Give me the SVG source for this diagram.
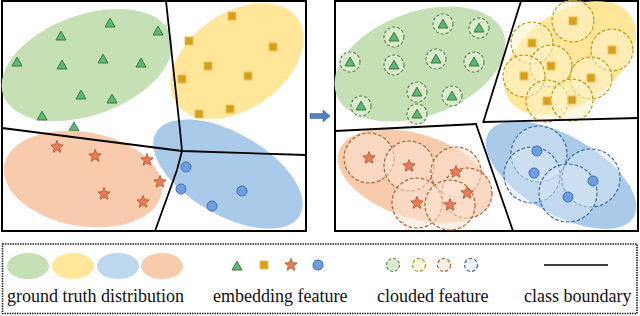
<svg xmlns="http://www.w3.org/2000/svg" xmlns:xlink="http://www.w3.org/1999/xlink" width="640" height="316" viewBox="0 0 640 316">
<style>
.frame{fill:none;stroke:#000;stroke-width:2}
.bnd{fill:none;stroke:#000;stroke-width:1.8;stroke-linejoin:round}
.g{fill:#c5e0b4}.y{fill:#ffe699}.b{fill:#a9cbe9}.o{fill:#f8cbad}
.tri{fill:#5ab87f;stroke:#3f7a2c;stroke-width:1}
.sq{fill:#d6a01c;stroke:#ecc255;stroke-width:1}
.st{fill:#ef7a58;stroke:#b85a2a;stroke-width:0.9}
.ci{fill:#6d9de2;stroke:#3e6fb0;stroke-width:1}
.cg{fill:#dcebd0;stroke:#5a8a46;stroke-width:1.2;stroke-dasharray:3,2}
.cy{fill:#fff3c8;fill-opacity:0.55;stroke:#c9940e;stroke-width:1.2;stroke-dasharray:3.5,2}
.co{fill:#fde3d2;fill-opacity:0.55;stroke:#b8602e;stroke-width:1.2;stroke-dasharray:3.5,2}
.cb{fill:#d9e7f6;fill-opacity:0.5;stroke:#3d6fa3;stroke-width:1.2;stroke-dasharray:3.5,2}
.lbl{font-family:"Liberation Serif","Times New Roman",serif;font-size:18px;fill:#111}
</style>
<defs>
<path id="tri" class="tri" d="M0,-4.8 L5,4 L-5,4 Z"/>
<rect id="sq" class="sq" x="-4" y="-4" width="8" height="8"/>
<path id="st" class="st" d="M0,-6.5 L1.65,-2.27 L6.18,-2.01 L2.66,0.87 L3.82,5.26 L0,2.8 L-3.82,5.26 L-2.66,0.87 L-6.18,-2.01 L-1.65,-2.27 Z"/>
<circle id="ci" class="ci" r="5"/>
</defs>

<g id="left-panel">
<rect class="frame" x="2" y="1" width="304" height="230"/>
<g id="left-green">
<ellipse class="g" cx="87" cy="65" rx="89" ry="50" transform="rotate(-20 87 65)"/>
<use xlink:href="#tri" x="110" y="23"/><use xlink:href="#tri" x="158" y="31"/><use xlink:href="#tri" x="61" y="36"/>
<use xlink:href="#tri" x="17" y="62"/><use xlink:href="#tri" x="62" y="65"/><use xlink:href="#tri" x="103" y="59"/>
<use xlink:href="#tri" x="141" y="63"/><use xlink:href="#tri" x="81" y="95"/><use xlink:href="#tri" x="112" y="99"/>
<use xlink:href="#tri" x="42" y="116"/><use xlink:href="#tri" x="74" y="127"/>
</g>
<g id="left-yellow">
<ellipse class="y" cx="237" cy="61" rx="74" ry="48" transform="rotate(-35 237 61)"/>
<use xlink:href="#sq" x="232" y="16"/><use xlink:href="#sq" x="189" y="41"/><use xlink:href="#sq" x="273" y="47"/>
<use xlink:href="#sq" x="208" y="66"/><use xlink:href="#sq" x="182" y="79"/><use xlink:href="#sq" x="248" y="76"/>
<use xlink:href="#sq" x="199" y="114"/><use xlink:href="#sq" x="230" y="109"/>
</g>
<g id="left-blue">
<ellipse class="b" cx="228" cy="174" rx="83" ry="41" transform="rotate(30 228 174)"/>
<use xlink:href="#ci" x="186" y="167"/><use xlink:href="#ci" x="181" y="189"/><use xlink:href="#ci" x="242" y="191"/><use xlink:href="#ci" x="212" y="206"/>
</g>
<g id="left-orange">
<ellipse class="o" cx="83" cy="179" rx="80" ry="47" transform="rotate(10 83 179)"/>
<use xlink:href="#st" x="57" y="147"/><use xlink:href="#st" x="95" y="156"/><use xlink:href="#st" x="147" y="160"/>
<use xlink:href="#st" x="160" y="182"/><use xlink:href="#st" x="104" y="194"/><use xlink:href="#st" x="143" y="202"/>
</g>
</g>

<g id="right-panel">
<rect class="frame" x="335" y="1" width="303" height="230"/>
<g id="right-green">
<ellipse class="g" cx="420" cy="64" rx="89" ry="52" transform="rotate(-20 420 64)"/>
<circle class="cg" cx="443" cy="24" r="10"/><circle class="cg" cx="479" cy="28" r="10"/><circle class="cg" cx="394" cy="37" r="10"/>
<circle class="cg" cx="350" cy="62" r="10"/><circle class="cg" cx="394" cy="65" r="10"/><circle class="cg" cx="436" cy="59" r="10"/>
<circle class="cg" cx="474" cy="62" r="10"/><circle class="cg" cx="417" cy="92" r="10"/><circle class="cg" cx="452" cy="96" r="10"/>
<circle class="cg" cx="361" cy="106" r="10"/><circle class="cg" cx="417" cy="114" r="10"/>
<use xlink:href="#tri" x="443" y="24"/><use xlink:href="#tri" x="479" y="28"/><use xlink:href="#tri" x="394" y="37"/>
<use xlink:href="#tri" x="350" y="62"/><use xlink:href="#tri" x="394" y="65"/><use xlink:href="#tri" x="436" y="59"/>
<use xlink:href="#tri" x="474" y="62"/><use xlink:href="#tri" x="417" y="92"/><use xlink:href="#tri" x="452" y="96"/>
<use xlink:href="#tri" x="361" y="106"/><use xlink:href="#tri" x="417" y="114"/>
</g>
<g id="right-yellow">
<ellipse class="y" cx="570" cy="58" rx="74" ry="46" transform="rotate(-35 570 58)"/>
<circle class="cy" cx="573" cy="21" r="21"/><circle class="cy" cx="532" cy="43" r="21"/><circle class="cy" cx="612" cy="50" r="21"/>
<circle class="cy" cx="551" cy="66" r="21"/><circle class="cy" cx="524" cy="76" r="21"/><circle class="cy" cx="591" cy="78" r="21"/>
<circle class="cy" cx="547" cy="101" r="21"/><circle class="cy" cx="572" cy="100" r="21"/>
<use xlink:href="#sq" x="573" y="21"/><use xlink:href="#sq" x="532" y="43"/><use xlink:href="#sq" x="612" y="50"/>
<use xlink:href="#sq" x="551" y="66"/><use xlink:href="#sq" x="524" y="76"/><use xlink:href="#sq" x="591" y="78"/>
<use xlink:href="#sq" x="547" y="101"/><use xlink:href="#sq" x="572" y="100"/>
</g>
<g id="right-orange">
<ellipse class="o" cx="415" cy="176" rx="80" ry="42" transform="rotate(18 415 176)"/>
<circle class="co" cx="369" cy="158" r="25"/><circle class="co" cx="409" cy="166" r="25"/><circle class="co" cx="456" cy="172" r="25"/>
<circle class="co" cx="467" cy="193" r="25"/><circle class="co" cx="417" cy="203" r="25"/><circle class="co" cx="450" cy="205" r="25"/>
<use xlink:href="#st" x="369" y="158"/><use xlink:href="#st" x="409" y="166"/><use xlink:href="#st" x="456" y="172"/>
<use xlink:href="#st" x="467" y="193"/><use xlink:href="#st" x="417" y="203"/><use xlink:href="#st" x="450" y="205"/>
</g>
<g id="right-blue">
<ellipse class="b" cx="561" cy="175" rx="84" ry="39" transform="rotate(30 561 175)"/>
<circle class="cb" cx="539" cy="154" r="28"/><circle class="cb" cx="532" cy="175" r="28"/><circle class="cb" cx="591" cy="178" r="29"/><circle class="cb" cx="568" cy="193" r="29"/>
<use xlink:href="#ci" x="537" y="151"/><use xlink:href="#ci" x="534" y="173"/><use xlink:href="#ci" x="593" y="181"/><use xlink:href="#ci" x="568" y="197"/>
</g>
</g>

<g id="connectors">
<polyline class="bnd" points="166,1 180,130 182,151"/>
<polyline class="bnd" points="2,128 182,151 306,155"/>
<polyline class="bnd" points="182,151 177,170 155,231"/>
<polyline class="bnd" points="521,1 483,123"/>
<polyline class="bnd" points="483,122 638,118"/>
<polyline class="bnd" points="335,131 477,124"/>
<polyline class="bnd" points="476,124 513,231"/>
<path id="arrow" d="M310,113.5 L323,113.5 L323,110 L330,116 L323,122 L323,118.5 L310,118.5 Z" fill="#4f81bd" stroke="#3a6aa3" stroke-width="0.6"/>
</g>

<g id="legend">
<rect x="2.5" y="244" width="634.5" height="69.5" fill="none" stroke="#222" stroke-width="1.6" stroke-dasharray="1.5,1"/>
<g id="legend-distribution">
<ellipse cx="28" cy="266" rx="21" ry="13" fill="#c5e0b4"/>
<ellipse cx="73" cy="266" rx="21" ry="13" fill="#ffe699"/>
<ellipse cx="118" cy="266" rx="21" ry="13" fill="#bdd7ee"/>
<ellipse cx="162" cy="266" rx="21" ry="13" fill="#f8cbad"/>
<text class="lbl" x="7" y="302">ground truth distribution</text>
</g>
<g id="legend-embedding">
<use xlink:href="#tri" x="237" y="266"/>
<use xlink:href="#sq" x="264" y="265"/>
<use xlink:href="#st" x="291" y="265"/>
<use xlink:href="#ci" x="318" y="265"/>
<text class="lbl" x="213" y="302">embedding feature</text>
</g>
<g id="legend-clouded">
<circle class="cg" cx="393" cy="265" r="6.5" stroke-dasharray="2.5,1.5"/>
<circle class="cy" cx="419" cy="265" r="6.5" stroke-dasharray="2.5,1.5"/>
<circle class="co" cx="444" cy="265" r="6.5" stroke-dasharray="2.5,1.5"/>
<circle class="cb" cx="471" cy="265" r="6.5" stroke-dasharray="2.5,1.5"/>
<text class="lbl" x="377" y="302">clouded feature</text>
</g>
<g id="legend-boundary">
<line x1="544" y1="265" x2="608" y2="265" stroke="#000" stroke-width="1.5"/>
<text class="lbl" x="524" y="302">class boundary</text>
</g>
</g>
</svg>
